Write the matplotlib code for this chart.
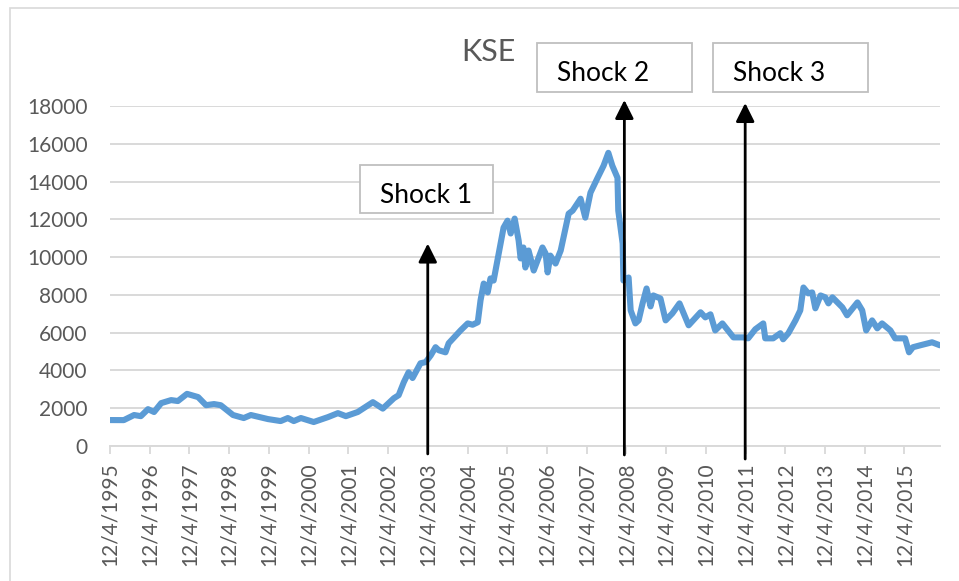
import matplotlib
matplotlib.use("Agg")
import matplotlib.pyplot as plt
from matplotlib.patches import Rectangle
import pandas as pd

# ---- data ----
years = [1995.93, 1996.27, 1996.53, 1996.70, 1996.88, 1997.03, 1997.21, 1997.46, 1997.63, 1997.86,
         1998.14, 1998.34, 1998.54, 1998.71, 1999.02, 1999.29, 1999.47, 1999.90, 2000.22, 2000.40,
         2000.55, 2000.73, 2001.05, 2001.41, 2001.66, 2001.86, 2002.16, 2002.54, 2002.79, 2003.07,
         2003.19, 2003.32, 2003.44, 2003.54, 2003.74, 2003.87, 2004.00, 2004.12, 2004.20, 2004.37,
         2004.45, 2004.75, 2004.93, 2005.05, 2005.18, 2005.25, 2005.33, 2005.43, 2005.50, 2005.58,
         2005.83, 2005.93, 2006.01, 2006.11, 2006.21, 2006.26, 2006.33, 2006.38, 2006.46, 2006.59,
         2006.81, 2006.89, 2006.94, 2007.01, 2007.14, 2007.27, 2007.47, 2007.57, 2007.77, 2007.89,
         2008.02, 2008.20, 2008.35, 2008.47, 2008.57, 2008.70, 2008.72, 2008.83, 2008.85, 2008.98,
         2009.03, 2009.15, 2009.23, 2009.33, 2009.43, 2009.53, 2009.60, 2009.78, 2009.91, 2010.08,
         2010.26, 2010.49, 2010.79, 2010.91, 2011.04, 2011.16, 2011.34, 2011.62, 2011.87, 2011.99,
         2012.17, 2012.37, 2012.42, 2012.62, 2012.80, 2012.87, 2013.00, 2013.18, 2013.30, 2013.38,
         2013.50, 2013.60, 2013.68, 2013.81, 2013.93, 2014.01, 2014.11, 2014.26, 2014.36, 2014.48,
         2014.74, 2014.86, 2014.96, 2015.11, 2015.24, 2015.36, 2015.57, 2015.69, 2015.94, 2016.04,
         2016.14, 2016.32, 2016.62, 2016.82]
kse = [1373, 1370, 1640, 1580, 1950, 1800, 2270, 2430, 2380, 2760,
       2590, 2160, 2220, 2160, 1640, 1480, 1640, 1425, 1320, 1480,
       1320, 1480, 1270, 1530, 1740, 1580, 1800, 2320, 1980, 2530,
       2690, 3380, 3900, 3600, 4380, 4440, 4800, 5230, 5070, 4960,
       5440, 6120, 6490, 6420, 6550, 7710, 8600, 8130, 8870, 8760,
       11560, 11930, 11250, 12040, 10880, 9930, 10510, 9450, 10350, 9290,
       10510, 10190, 9190, 10080, 9660, 10350, 12300, 12460, 13090, 12090,
       13410, 14200, 14840, 15520, 14840, 14200, 12460, 10720, 8760, 8920,
       7180, 6490, 6650, 7550, 8340, 7390, 7970, 7810, 6650, 7020,
       7550, 6390, 7080, 6810, 6970, 6120, 6490, 5750, 5750, 5700,
       6180, 6490, 5700, 5700, 5970, 5650, 5970, 6650, 7180, 8390,
       8080, 8130, 7290, 7970, 7870, 7550, 7870, 7550, 7340, 6920,
       7600, 7180, 6120, 6650, 6230, 6490, 6120, 5700, 5700, 4960,
       5230, 5330, 5490, 5330]
tick_years = list(range(1995, 2016))
shock_labels = ["Shock 1", "Shock 2", "Shock 3"]
shock_dates = ["2003-12-04", "2008-11-15", "2011-12-01"]
shock_tips = [10720, 18320, 18160]
shock_tails = [-420, -475, -690]
title = "KSE"


def to_date(y):
    yi = int(y)
    return pd.Timestamp(year=yi, month=1, day=1) + pd.Timedelta(days=(y - yi) * 365.25)


dates = [to_date(y) for y in years]
ticks = [pd.Timestamp(year=y, month=12, day=4) for y in tick_years]

plt.rcParams['font.family'] = ['Lato', 'DejaVu Sans']

fig = plt.figure(figsize=(9.59, 5.81), dpi=100)
ax = fig.add_axes([110 / 959, 1 - 446 / 581, (940 - 110) / 959, (446 - 106) / 581])

grid_c = '#d9d9d9'
text_c = '#595959'

ax.plot(dates, kse, color='#5b9bd5', lw=4.4, solid_joinstyle='round', solid_capstyle='round', zorder=3)

ax.set_ylim(0, 18000)
ax.set_yticks(range(0, 18001, 2000))
ax.set_xlim(pd.Timestamp('1995-12-04'), dates[-1])
ax.set_xticks(ticks)
ax.set_xticklabels([t.strftime('%-m/%-d/%Y') for t in ticks], rotation=90)
ax.grid(axis='y', color=grid_c, lw=1.4, zorder=0)
ax.set_axisbelow(True)
for s in ['top', 'right', 'left']:
    ax.spines[s].set_visible(False)
ax.spines['bottom'].set_color(grid_c)
ax.spines['bottom'].set_linewidth(1.4)
ax.tick_params(axis='y', length=0, pad=16, labelsize=15, labelcolor=text_c)
ax.tick_params(axis='x', length=6, width=1.3, color=grid_c, pad=6, labelsize=15, labelcolor=text_c)

# arrows
for d, tip, tail in zip(shock_dates, shock_tips, shock_tails):
    ax.annotate('', xy=(pd.Timestamp(d), tip), xytext=(pd.Timestamp(d), tail),
                arrowprops=dict(arrowstyle='-|>,head_length=0.8,head_width=0.4', mutation_scale=14,
                                color='black', lw=2.0, shrinkA=0, shrinkB=0),
                annotation_clip=False, zorder=5)

# title
fig.text(488 / 959, 1 - 52 / 581, title, ha='center', va='center', fontsize=22, color=text_c)

# text boxes (pixel geometry -> figure fractions)
boxes = [(360, 165, 493, 213, 203), (537, 43, 692, 92, 81), (713, 43, 868, 92, 81)]
for lab, (x0, y0, x1, y1, base) in zip(shock_labels, boxes):
    fig.patches.append(Rectangle((x0 / 959, 1 - y1 / 581), (x1 - x0) / 959, (y1 - y0) / 581,
                                 transform=fig.transFigure, facecolor='white', edgecolor='#bfbfbf',
                                 lw=1.3, zorder=4))
    fig.text((x0 + 20) / 959, 1 - base / 581, lab, ha='left', va='baseline', fontsize=19,
             color='black', zorder=6)

# chart border
fig.patches.append(Rectangle((9.5 / 959, -0.1), 1.2, 1.1 - 7.5 / 581, transform=fig.transFigure,
                             facecolor='none', edgecolor=grid_c, lw=1.2, zorder=0))

fig.savefig('out.png', dpi=100)
